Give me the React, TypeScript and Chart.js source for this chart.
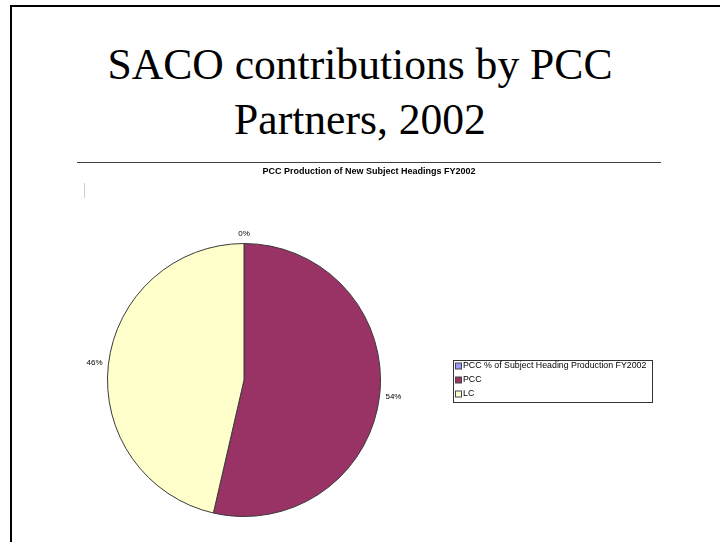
import { useEffect, useRef } from "react";
import { Chart, registerables } from "chart.js";

Chart.register(...registerables);

const slideTitleLines = ["SACO contributions by PCC", "Partners, 2002"];
const chartTitle = "PCC Production of New Subject Headings FY2002";
const categories = ["PCC % of Subject Heading Production FY2002", "PCC", "LC"];
const shares = [0, 53.6, 46.4];
const sliceColors = ["#9999FF", "#993366", "#FFFFCC"];

const SANS = "'Liberation Sans', Arial, sans-serif";

const decorPlugin = {
  id: "decor",
  afterDraw(chart: any) {
    const ctx = chart.ctx as CanvasRenderingContext2D;
    ctx.save();
    ctx.strokeStyle = "#404040";
    ctx.lineWidth = 1;
    ctx.beginPath();
    ctx.moveTo(77, 162.5);
    ctx.lineTo(661, 162.5);
    ctx.stroke();
    ctx.strokeStyle = "#cfcfc8";
    ctx.beginPath();
    ctx.moveTo(84.5, 183);
    ctx.lineTo(84.5, 198);
    ctx.stroke();
    ctx.fillStyle = "#000";
    ctx.font = `bold 9px ${SANS}`;
    ctx.textAlign = "center";
    ctx.textBaseline = "middle";
    ctx.fillText(chartTitle, 369, 172);
    ctx.restore();
  },
};

const labelPlugin = {
  id: "sliceLabels",
  afterDatasetsDraw(chart: any) {
    const ctx = chart.ctx as CanvasRenderingContext2D;
    const meta = chart.getDatasetMeta(0);
    const data = chart.data.datasets[0].data as number[];
    const total = data.reduce((a, b) => a + b, 0);
    ctx.save();
    ctx.font = `8px ${SANS}`;
    ctx.fillStyle = "#000";
    ctx.textBaseline = "middle";
    ctx.textAlign = "center";
    const gap = 5.5;
    const halfH = 4;
    meta.data.forEach((arc: any, i: number) => {
      const p = arc.getProps(["x", "y", "startAngle", "endAngle", "outerRadius"], true);
      const mid = (p.startAngle + p.endAngle) / 2;
      const text = `${Math.round((data[i] / total) * 100)}%`;
      const halfW = ctx.measureText(text).width / 2;
      const c = Math.cos(mid);
      const s = Math.sin(mid);
      const d = p.outerRadius + gap + halfW * Math.abs(c) + halfH * Math.abs(s);
      ctx.fillText(text, p.x + c * d, p.y + s * d);
    });
    ctx.restore();
  },
};

const legendPlugin = {
  id: "boxLegend",
  afterDraw(chart: any) {
    const ctx = chart.ctx as CanvasRenderingContext2D;
    const labels = chart.data.labels as string[];
    const colors = chart.data.datasets[0].backgroundColor as string[];
    const bx = 453, by = 360, bw = 199, bh = 42, row = 14;
    ctx.save();
    ctx.fillStyle = "#fff";
    ctx.fillRect(bx, by, bw, bh);
    ctx.strokeStyle = "#333";
    ctx.lineWidth = 1;
    ctx.strokeRect(bx + 0.5, by + 0.5, bw, bh);
    ctx.font = `8.8px ${SANS}`;
    ctx.textAlign = "left";
    ctx.textBaseline = "middle";
    labels.forEach((lab, i) => {
      const cy = by + 6 + i * row;
      ctx.fillStyle = colors[i];
      ctx.fillRect(bx + 2.5, cy - 3, 6, 6);
      ctx.strokeStyle = "#444";
      ctx.strokeRect(bx + 2.5, cy - 3, 6, 6);
      ctx.fillStyle = "#000";
      ctx.fillText(lab, bx + 10, cy);
    });
    ctx.restore();
  },
};

export default function App() {
  const ref = useRef<HTMLCanvasElement | null>(null);
  useEffect(() => {
    if (!ref.current) return;
    const chart = new Chart(ref.current, {
      type: "pie",
      data: {
        labels: categories,
        datasets: [
          {
            data: shares,
            backgroundColor: sliceColors,
            borderColor: "#3a3a3a",
            borderWidth: 1,
          },
        ],
      },
      options: {
        responsive: false,
        animation: false,
        devicePixelRatio: 1,
        layout: { padding: { left: 107, right: 339, top: 243, bottom: 25 } },
        plugins: {
          legend: { display: false },
          tooltip: { enabled: false },
          title: { display: false },
        },
      },
      plugins: [decorPlugin, labelPlugin, legendPlugin],
    });
    return () => chart.destroy();
  }, []);

  const titleStyle: React.CSSProperties = {
    position: "absolute",
    left: 0,
    width: 720,
    textAlign: "center",
    fontFamily: "'Liberation Serif', 'Times New Roman', serif",
    fontSize: 43.6,
    lineHeight: "48px",
    color: "#000",
    whiteSpace: "nowrap",
  };

  return (
    <div style={{ position: "fixed", left: 0, top: 0, width: 720, height: 542, background: "#fff", overflow: "hidden" }}>
      <div style={{ position: "absolute", left: 10, top: 5, width: 720, height: 542, borderTop: "2px solid #000", borderLeft: "2px solid #000" }} />
      <div style={{ ...titleStyle, top: 40 }}>{slideTitleLines[0]}</div>
      <div style={{ ...titleStyle, top: 95 }}>{slideTitleLines[1]}</div>
      <canvas ref={ref} width={720} height={542} style={{ position: "absolute", left: 0, top: 0, width: 720, height: 542 }} />
    </div>
  );
}
